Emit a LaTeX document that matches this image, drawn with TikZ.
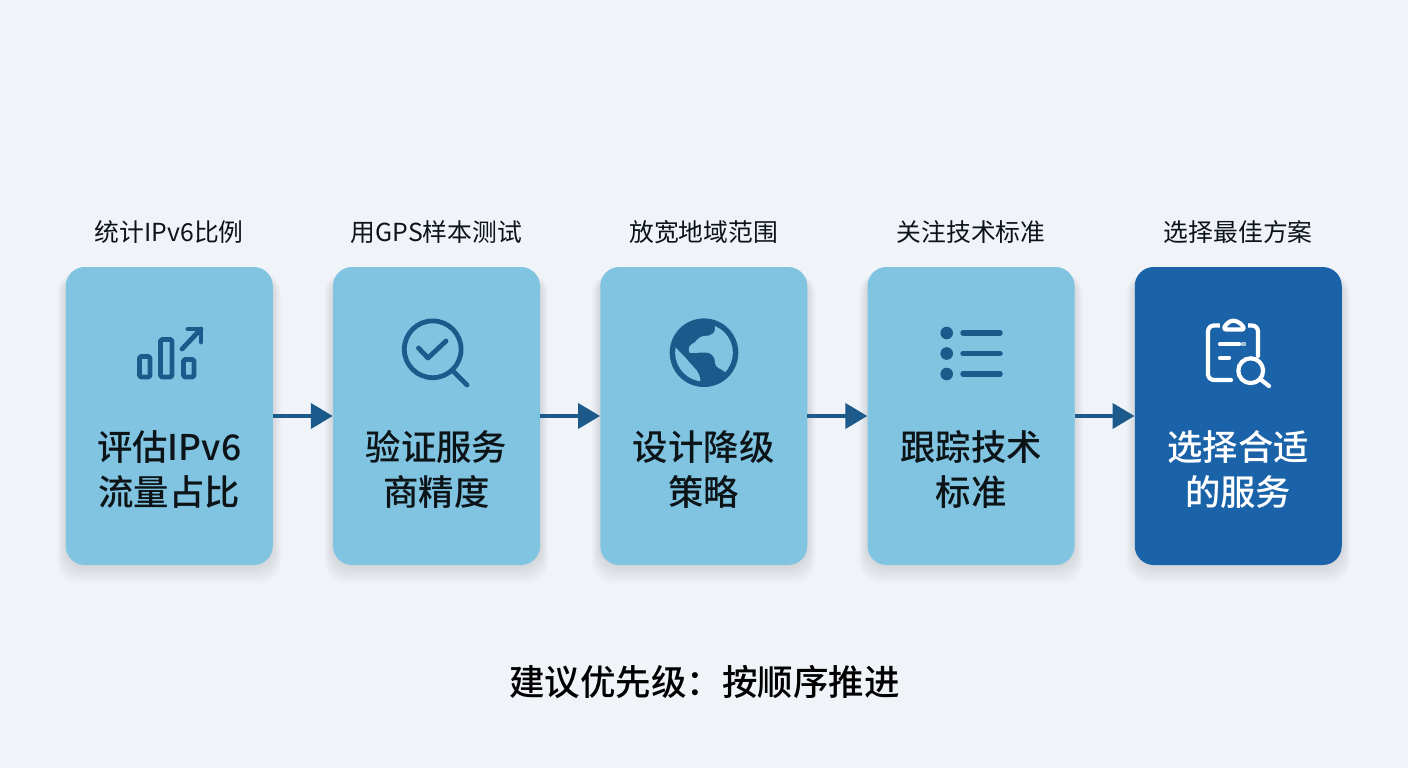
\documentclass[tikz,border=0pt]{standalone}
\usepackage{fontspec}
\setmainfont{Noto Sans CJK SC}
\newfontfamily\titlefont{Noto Sans CJK SC Medium}
\usetikzlibrary{arrows.meta,backgrounds}
\definecolor{pagebg}{HTML}{F0F3F7}
\definecolor{cardblue}{HTML}{80C4E1}
\definecolor{carddark}{HTML}{1A63A8}
\definecolor{inkblue}{HTML}{1D5A8C}
\definecolor{titleink}{HTML}{0D1418}
\tikzset{
  cardbox/.style={fill=cardblue, rounded corners=19pt, minimum width=207pt, minimum height=298pt, inner sep=0pt},
  toplabel/.style={font=\fontsize{24.8}{28}\selectfont, text=titleink, inner sep=0pt},
  cardtitle/.style={font=\titlefont\fontsize{35.4}{45.5}\selectfont, text=titleink, align=center, inner sep=0pt},
  flowarrow/.style={draw=inkblue, line width=4pt, -{Triangle[length=22pt,width=25pt]}, shorten >=0pt},
  iconline/.style={draw=inkblue, line width=4.8pt, line cap=round, line join=round},
  iconwhite/.style={draw=white, line width=4.2pt, line cap=round, line join=round}
}
\begin{document}
\begin{tikzpicture}[x=1pt, y=-1pt, node distance=267.25pt]
\useasboundingbox (0,0) rectangle (1408,768);
\node[cardbox] (card1) at (169.25,416) {};
\node[cardbox, right of=card1] (card2) {};
\node[cardbox, right of=card2] (card3) {};
\node[cardbox, right of=card3] (card4) {};
\node[cardbox, right of=card4, fill=carddark] (card5) {};
\node[toplabel, above of=card1, node distance=184pt] (label1) {统计IPv6比例};
\node[toplabel, above of=card2, node distance=184pt] (label2) {用GPS样本测试};
\node[toplabel, above of=card3, node distance=184pt] (label3) {放宽地域范围};
\node[toplabel, above of=card4, node distance=184pt] (label4) {关注技术标准};
\node[toplabel, above of=card5, node distance=184pt] (label5) {选择最佳方案};
\node[cardtitle, below of=card1, node distance=53.5pt] (title1) {评估IPv6\\流量占比};
\node[cardtitle, below of=card2, node distance=53.5pt] (title2) {验证服务\\商精度};
\node[cardtitle, below of=card3, node distance=53.5pt] (title3) {设计降级\\策略};
\node[cardtitle, below of=card4, node distance=53.5pt] (title4) {跟踪技术\\标准};
\node[cardtitle, below of=card5, node distance=53.5pt, text=white] (title5) {选择合适\\的服务};
\node[font=\titlefont\fontsize{35.5}{40}\selectfont, text=black, inner sep=0pt] (summary) at (704.5,682) {建议优先级：按顺序推进};
\draw[flowarrow] (card1) -- (card2);
\draw[flowarrow] (card2) -- (card3);
\draw[flowarrow] (card3) -- (card4);
\draw[flowarrow] (card4) -- (card5);
% soft shadows under the cards
\begin{scope}[on background layer]
\fill[pagebg] (0,0) rectangle (1408,768);
\foreach \n in {1,...,5}
  \foreach \g in {1,...,14}
    \fill[black!70!inkblue, opacity=0.009, rounded corners=21pt] ([xshift=-\g*0.6pt, yshift=-\g*1.3pt]card\n.south west) rectangle ([xshift=\g*0.6pt, yshift=-6pt]card\n.north east);
\end{scope}
% bars with arrow
\draw[iconline, rounded corners=1.5pt] (139.5,356.5) rectangle (150,377);
\draw[iconline, rounded corners=1.5pt] (160.5,339.5) rectangle (172,377);
\draw[iconline, rounded corners=1.5pt] (183.5,359.5) rectangle (194,377);
\draw[iconline] (182,349) -- (201,329);
\draw[iconline] (188,329) -- (201,329) -- (201,342);
% magnifier with check
\draw[iconline] (432.7,349.3) circle (28.4);
\draw[iconline] (453,371) -- (467,385);
\draw[iconline] (418.5,348) -- (428,358) -- (446,341);
% globe
\fill[inkblue] (704,352.7) circle (34.3);
\begin{scope}
\clip (704,352.7) circle (28.8);
\fill[cardblue] (715,326) .. controls (716,332) and (713,336) .. (704,336) .. controls (697,337) and (697,342) .. (692,344) .. controls (688,346) and (688,351) .. (690,353) -- (706,352.5) .. controls (713,353) and (715,358) .. (715,363) .. controls (716,369) and (721,368) .. (725,372) -- (745,372) -- (745,320) -- cycle;
\fill[cardblue] (675,347) .. controls (682,354) and (686,358) .. (690,363) .. controls (694,368) and (700,371) .. (700.5,382) -- (670,385) -- (670,347) -- cycle;
\end{scope}
% list
\foreach \rowy in {333,353.5,374} {
  \fill[inkblue] (946.7,\rowy) circle (6.3);
  \draw[iconline, line width=5.5pt] (963,\rowy) -- (1000,\rowy);
}
% clipboard with magnifier
\draw[iconwhite, rounded corners=6pt] (1231,380) -- (1208,380) -- (1208,325.5) -- (1258,325.5) -- (1258,356);
\fill[carddark] (1220,322) rectangle (1248,331);
\draw[iconwhite, rounded corners=3pt] (1223,329.5) -- (1245,329.5) -- (1240.5,323) -- (1233,320) -- (1227,323) -- cycle;
\draw[iconwhite] (1220,344.3) -- (1239,344.3);
\draw[white!60!carddark, line width=4pt] (1241,344.3) -- (1246,344.3);
\draw[iconwhite] (1220,357.7) -- (1229,357.7);
\draw[iconwhite] (1250.7,370.7) circle (12.4);
\draw[iconwhite] (1260,379) -- (1269,386);
\end{tikzpicture}
\end{document}
